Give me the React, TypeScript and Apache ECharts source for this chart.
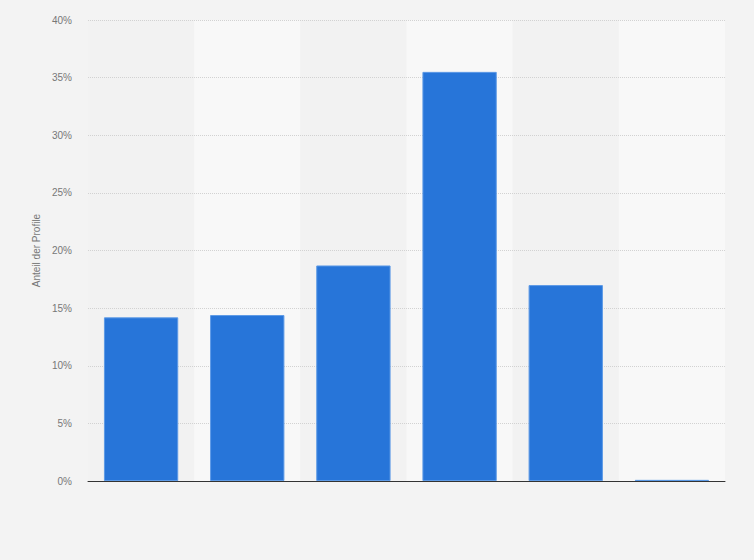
import { useEffect, useRef } from "react";
import * as echarts from "echarts";

const categories = ["A", "B", "C", "D", "E", "F"];
const shares = [14.2, 14.4, 18.7, 35.5, 17.0, 0.1];
const yTicks = [0, 5, 10, 15, 20, 25, 30, 35, 40];

function App() {
    const ref = useRef<HTMLDivElement>(null);

    useEffect(() => {
        document.body.style.margin = "0";
        if (!ref.current) return;
        const chart = echarts.init(ref.current, undefined, { renderer: "svg" });

        chart.setOption({
            animation: false,
            backgroundColor: "#f3f3f3",
            textStyle: { fontFamily: "Arial, Liberation Sans, sans-serif" },
            grid: { left: 88, right: 29, top: 20, bottom: 79 },
            xAxis: {
                type: "category",
                data: categories,
                z: 0,
                axisLabel: { show: false },
                axisTick: { show: false },
                axisLine: { lineStyle: { color: "#333333", width: 1 } },
                splitArea: { show: true, areaStyle: { color: ["#f2f2f2", "#f8f8f8"] } },
            },
            yAxis: {
                type: "value",
                min: yTicks[0],
                max: yTicks[yTicks.length - 1],
                interval: 5,
                z: 1,
                name: "Anteil der Profile",
                nameLocation: "middle",
                nameGap: 46,
                nameTextStyle: { color: "#777777", fontSize: 10 },
                axisLabel: { color: "#777777", fontSize: 10, margin: 16, formatter: "{value}%" },
                axisLine: { show: false },
                axisTick: { show: false },
                splitLine: {
                    show: true,
                    showMinLine: false,
                    lineStyle: { color: "#d2d2d2", width: 1, type: [1, 1] },
                },
            },
            series: [
                {
                    type: "bar",
                    data: shares,
                    barWidth: "70%",
                    z: 3,
                    itemStyle: { color: "#2775d9", borderColor: "#5d9ae6", borderWidth: 1 },
                },
            ],
        });

        return () => {
            chart.dispose();
        };
    }, []);

    return <div ref={ref} style={{ width: "754px", height: "560px" }} />;
}

export default App;
